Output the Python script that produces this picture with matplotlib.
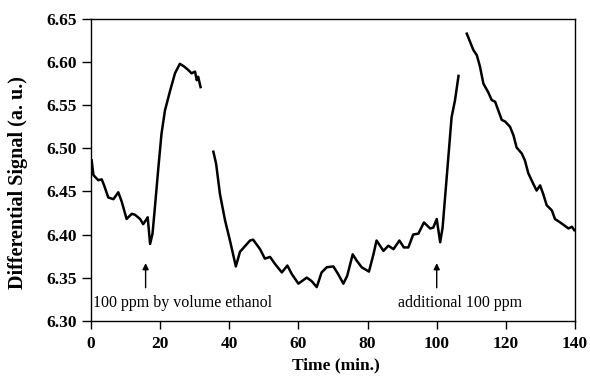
import matplotlib
matplotlib.use("Agg")
import matplotlib.pyplot as plt

# Segment 1 (first exposure)
t1 = [0.2, 0.7, 2.1, 3.1, 3.8, 5.0, 6.5, 7.2, 7.9, 8.9, 10.3, 11.8, 12.7, 14.2, 15.1, 16.1, 16.4,
      17.1, 17.8, 18.5, 19.5, 20.4, 21.4, 22.9, 24.3, 25.7, 26.9, 28.1, 29.1, 30.1, 30.6, 31.0, 31.7]
s1 = [6.486, 6.469, 6.463, 6.464, 6.457, 6.443, 6.441, 6.445, 6.449, 6.438, 6.418, 6.424, 6.423, 6.418,
      6.412, 6.418, 6.420, 6.389, 6.401, 6.432, 6.478, 6.517, 6.544, 6.567, 6.587, 6.598, 6.595, 6.591,
      6.587, 6.589, 6.579, 6.583, 6.571]

# Segment 2 (recovery and second exposure)
t2 = [35.4, 36.2, 37.3, 38.8, 40.2, 41.9, 43.1, 46.0, 46.9, 48.9, 50.3, 51.8, 53.2, 55.2, 56.8, 58.1,
      60.0, 62.4, 63.8, 65.3, 66.7, 68.2, 70.1, 71.5, 73.0, 74.1, 75.7, 76.8, 78.3, 80.4, 81.7, 82.6,
      84.6, 86.0, 87.5, 89.2, 90.5, 91.8, 93.2, 94.7, 96.3, 98.1, 99.0, 100.0, 101.0, 101.7, 102.9,
      104.3, 105.3, 106.3]
s2 = [6.496, 6.482, 6.447, 6.416, 6.393, 6.363, 6.380, 6.393, 6.394, 6.383, 6.372, 6.374, 6.366, 6.356,
      6.364, 6.354, 6.343, 6.350, 6.346, 6.339, 6.356, 6.362, 6.363, 6.354, 6.343, 6.352, 6.377, 6.370,
      6.362, 6.357, 6.377, 6.393, 6.381, 6.387, 6.383, 6.393, 6.385, 6.385, 6.400, 6.401, 6.414, 6.407,
      6.408, 6.418, 6.391, 6.408, 6.467, 6.536, 6.556, 6.584]

# Segment 3 (decay)
t3 = [108.7, 109.6, 110.6, 111.6, 112.5, 113.5, 114.9, 115.9, 116.9, 117.8, 118.8, 119.8, 121.2, 122.2,
      123.1, 124.6, 125.5, 126.5, 127.9, 128.9, 129.9, 130.8, 131.8, 133.3, 134.2, 135.7, 137.1, 138.1,
      139.1, 139.8]
s3 = [6.633, 6.624, 6.614, 6.608, 6.595, 6.575, 6.565, 6.556, 6.554, 6.544, 6.533, 6.531, 6.525, 6.515,
      6.501, 6.494, 6.486, 6.471, 6.459, 6.451, 6.457, 6.447, 6.434, 6.428, 6.418, 6.414, 6.410, 6.407,
      6.409, 6.405]

x_ticks = [0, 20, 40, 60, 80, 100, 120, 140]
y_ticks = [6.30, 6.35, 6.40, 6.45, 6.50, 6.55, 6.60, 6.65]
annotations = [("100 ppm by volume ethanol", 15.8), ("additional 100 ppm", 100.0)]

plt.rcParams['font.family'] = ['Liberation Serif', 'DejaVu Serif']

fig = plt.figure(figsize=(5.9, 3.77), dpi=100)
ax = fig.add_axes([0.1542, 0.1493, 0.8204, 0.8003])

for t, s in [(t1, s1), (t2, s2), (t3, s3)]:
    ax.plot(t, s, color='black', lw=1.8)

ax.set_xlim(0, 140)
ax.set_ylim(6.30, 6.65)
ax.set_xticks(x_ticks)
ax.set_yticks(y_ticks)
ax.set_xticklabels([str(v) for v in x_ticks], fontweight='bold', fontsize=12.5)
ax.set_yticklabels([f"{v:.2f}" for v in y_ticks], fontweight='bold', fontsize=12.5)
ax.tick_params(axis='y', direction='out', length=6.5, width=1, pad=3.8)
ax.tick_params(axis='x', direction='out', length=6, width=1, pad=5)
for sp in ax.spines.values():
    sp.set_linewidth(1)

ax.set_xlabel("Time (min.)", fontweight='bold', fontsize=12.5)
ax.xaxis.set_label_coords(0.506, -0.12)
ax.set_ylabel("Differential Signal (a. u.)", fontweight='bold', fontsize=14.5)
ax.yaxis.set_label_coords(-0.13, 0.458)

# arrows
for label, tx in annotations:
    ax.annotate("", xy=(tx, 6.370), xytext=(tx, 6.335),
                arrowprops=dict(arrowstyle='-|>', color='black', lw=1, mutation_scale=9))

ax.text(0.5, 6.320, annotations[0][0], fontsize=11.5, ha='left', va='center')
ax.text(106.7, 6.320, annotations[1][0], fontsize=11.5, ha='center', va='center')

fig.savefig("out.png", dpi=100)
